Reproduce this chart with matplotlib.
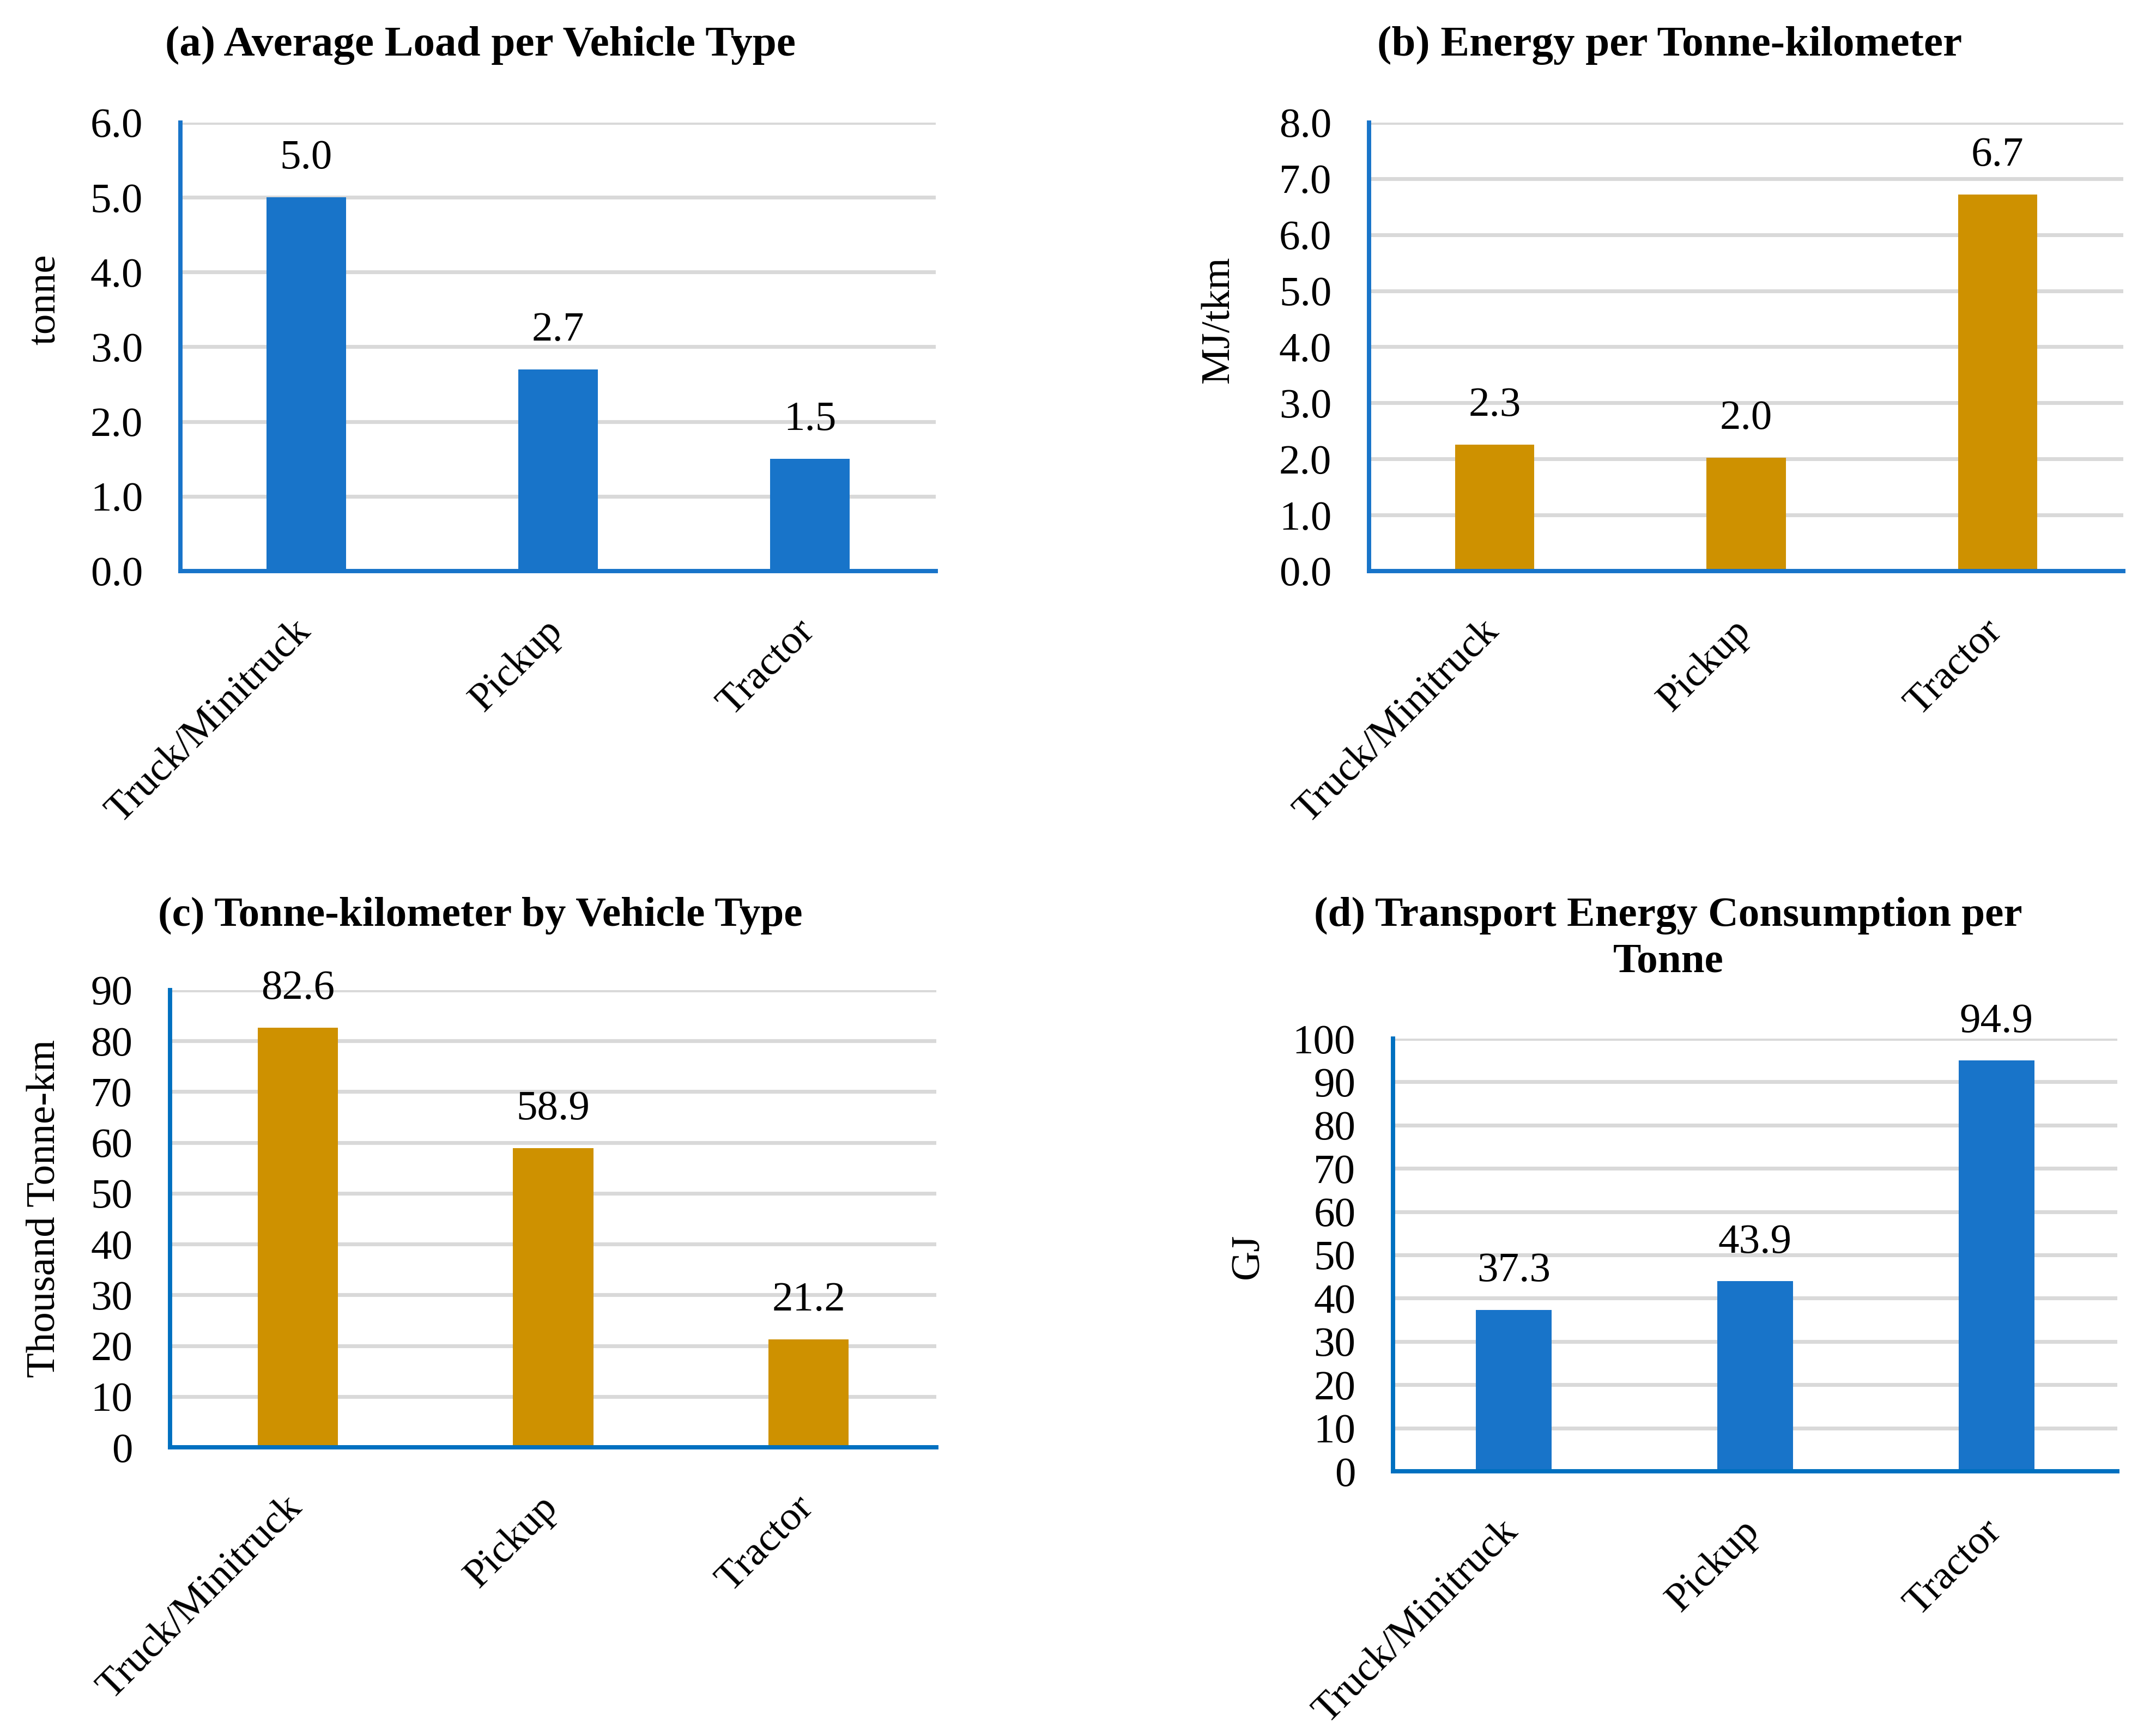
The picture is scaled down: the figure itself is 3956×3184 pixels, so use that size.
import matplotlib
matplotlib.use("Agg")
import matplotlib.pyplot as plt
from matplotlib.transforms import ScaledTranslation

plt.rcParams['font.family'] = ['Liberation Serif', 'DejaVu Serif']

# =====================================================
# DATA
# =====================================================

vehicles = ["Truck/Minitruck", "Pickup", "Tractor"]

avg_load = [5.0, 2.7, 1.5]            # tonne
energy_tkm = [2.26, 2.02, 6.72]       # MJ/tkm
tkm_thousand = [82.6, 58.9, 21.2]     # thousand tonne-km
energy_tonne = [37.3, 43.9, 94.9]     # GJ

labels_b = ["2.3", "2.0", "6.7"]

BLUE = "#1874C9"
GOLD = "#CE9100"
GRID = "#D9D9D9"

W, H = 3956, 3184
DPI = 300

fig = plt.figure(figsize=(W / DPI, H / DPI), dpi=DPI)


def box(l, r, t, b):
    return [l / W, 1 - b / H, (r - l) / W, (b - t) / H]


def panel(rect, values, color, spine_color, ymax, step, fmt, texts=None):
    ax = fig.add_axes(rect)
    x = range(len(values))
    ax.bar(x, values, width=0.315, color=color, zorder=3)
    ax.set_xlim(-0.5, len(values) - 0.5)
    ax.set_ylim(0, ymax)
    ticks = [i * step for i in range(int(round(ymax / step)) + 1)]
    ax.set_yticks(ticks)
    ax.set_yticklabels([fmt.format(t) for t in ticks], fontsize=18.5)
    ax.yaxis.grid(True, color=GRID, linewidth=1.7, zorder=0)
    ax.set_axisbelow(True)
    for s in ["top", "right"]:
        ax.spines[s].set_visible(False)
    for s in ["left", "bottom"]:
        ax.spines[s].set_color(spine_color)
        ax.spines[s].set_linewidth(1.9)
        ax.spines[s].set_zorder(4)
    ax.tick_params(axis="y", length=0, pad=16.5)
    ax.tick_params(axis="x", length=0, pad=24)
    ax.set_xticks(list(x))
    ax.set_xticklabels(vehicles, fontsize=18, rotation=45,
                       ha="right", va="center", rotation_mode="anchor")
    off = ScaledTranslation(-2 / DPI, 0, fig.dpi_scale_trans)
    for lab in ax.get_xticklabels():
        lab.set_transform(lab.get_transform() + off)
    if texts is None:
        texts = ["{:.1f}".format(v) for v in values]
    for xi, v, t in zip(x, values, texts):
        ax.annotate(t, (xi, v), xytext=(0, 12.7), textcoords="offset points",
                    ha="center", va="baseline", fontsize=18.5, zorder=5)
    return ax


ax_a = panel(box(331, 1717, 225, 1048), avg_load, BLUE, BLUE, 6.0, 1.0, "{:.1f}")
ax_b = panel(box(2512, 3896, 225, 1048), energy_tkm, GOLD, BLUE, 8.0, 1.0, "{:.1f}",
             texts=labels_b)
ax_c = panel(box(312, 1718, 1817, 2656), tkm_thousand, GOLD, "#0070C0", 90, 10, "{:.0f}")
ax_d = panel(box(2556, 3885, 1906, 2700), energy_tonne, BLUE, "#0070C0", 100, 10, "{:.0f}")

# titles
fig.text(881 / W, 1 - 102 / H, "(a) Average Load per Vehicle Type",
         ha="center", va="baseline", fontsize=19, fontweight="bold")
fig.text(3064 / W, 1 - 102 / H, "(b) Energy per Tonne-kilometer",
         ha="center", va="baseline", fontsize=19, fontweight="bold")
fig.text(881 / W, 1 - 1699 / H, "(c) Tonne-kilometer by Vehicle Type",
         ha="center", va="baseline", fontsize=18.5, fontweight="bold")
fig.text(3061 / W, 1 - 1699 / H, "(d) Transport Energy Consumption per",
         ha="center", va="baseline", fontsize=18.5, fontweight="bold")
fig.text(3061 / W, 1 - 1784 / H, "Tonne",
         ha="center", va="baseline", fontsize=18.5, fontweight="bold")

# y labels
fig.text(82 / W, 1 - 550 / H, "tonne", rotation=90, ha="center", va="center", fontsize=18)
fig.text(2237 / W, 1 - 586 / H, "MJ/tkm", rotation=90, ha="center", va="center", fontsize=18)
fig.text(82 / W, 1 - 2218 / H, "Thousand Tonne-km", rotation=90, ha="center", va="center",
         fontsize=18)
fig.text(2291 / W, 1 - 2305 / H, "GJ", rotation=90, ha="center", va="center", fontsize=18)

fig.savefig("out.png", dpi=DPI)
